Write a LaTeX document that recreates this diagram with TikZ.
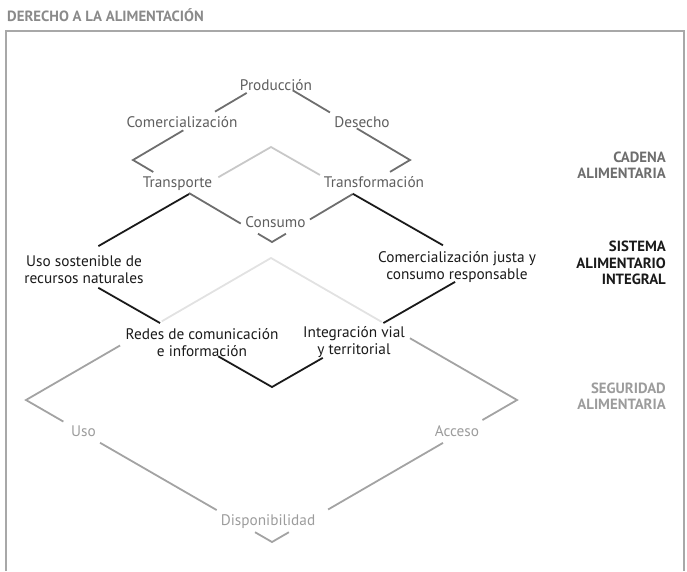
\documentclass[tikz,border=0pt]{standalone}
\usepackage{fontspec}
\setmainfont{PT Sans}
\usetikzlibrary{calc}
\definecolor{cadcol}{HTML}{6E6E6E}
\definecolor{cadtxt}{HTML}{5E5E5E}
\definecolor{siscol}{HTML}{1A1A1A}
\definecolor{segcol}{HTML}{A3A3A3}
\definecolor{segtxt}{HTML}{9C9C9C}
\definecolor{hidone}{HTML}{C8C8C8}
\definecolor{hidtwo}{HTML}{E2E2E2}
\definecolor{titcol}{HTML}{8A8A8A}
\definecolor{frmcol}{HTML}{A8A8A8}
\begin{document}
\begin{tikzpicture}[x=1pt,y=-1pt,
  lbl/.style={font=\fontsize{15.3}{17}\selectfont, align=center, inner sep=0pt},
  onel/.style={lbl, text height=10.7pt, text depth=0pt},
  sect/.style={font=\bfseries\fontsize{14.8}{16.3}\selectfont, align=right, inner sep=0pt, anchor=east},
  edge/.style={line width=1.8pt, line join=miter},
  cad/.style={edge, draw=cadcol},
  sis/.style={edge, draw=siscol},
  seg/.style={edge, draw=segcol},
  hidA/.style={edge, draw=hidone},
  hidB/.style={edge, draw=hidtwo}]
\useasboundingbox (0,0) rectangle (687,571);
% frame
\draw[line width=2pt, draw=frmcol] (6,571) -- (6,31) -- (684,31) -- (684,571);
\node[font=\bfseries\fontsize{14.8}{16}\selectfont, text=titcol, anchor=west, inner sep=0pt, text height=10.4pt, text depth=0pt] (title) at (7,16) {DERECHO A LA ALIMENTACIÓN};
% diamond vertices
\coordinate (T1) at (272,78);  \coordinate (L1) at (133,160);
\coordinate (R1) at (410,160); \coordinate (B1) at (272,242);
\coordinate (T2) at (271,147); \coordinate (L2) at (62,267);
\coordinate (R2) at (481,267); \coordinate (B2) at (272,387);
\coordinate (T3) at (271,258); \coordinate (L3) at (26,400);
\coordinate (R3) at (517,400); \coordinate (B3) at (272,542);
% hidden parts
\draw[hidB] ($(T3)!0.446!(L3)$) -- (T3) -- ($(T3)!0.45!(R3)$);
\draw[hidA] ($(T2)!0.252!(L2)$) -- (T2) -- ($(T2)!0.233!(R2)$);
% cadena alimentaria
\draw[cad] ($(T1)!0.182!(L1)$) -- ($(T1)!0.41!(L1)$);
\draw[cad] ($(T1)!0.638!(L1)$) -- (L1) -- ($(L1)!0.146!(B1)$);
\draw[cad] ($(L1)!0.403!(B1)$) -- ($(L1)!0.775!(B1)$);
\draw[cad] ($(L1)!0.899!(B1)$) -- (B1) -- ($(R1)!0.899!(B1)$);
\draw[cad] ($(T1)!0.15!(R1)$) -- ($(T1)!0.42!(R1)$);
\draw[cad] ($(T1)!0.614!(R1)$) -- (R1) -- ($(R1)!0.145!(B1)$);
\draw[cad] ($(R1)!0.415!(B1)$) -- ($(R1)!0.725!(B1)$);
% sistema alimentario integral
\draw[sis] ($(T2)!0.392!(L2)$) -- ($(T2)!0.826!(L2)$);
\draw[sis] ($(L2)!0.173!(B2)$) -- ($(L2)!0.467!(B2)$);
\draw[sis] ($(L2)!0.744!(B2)$) -- (B2) -- ($(R2)!0.757!(B2)$);
\draw[sis] ($(T2)!0.389!(R2)$) -- ($(T2)!0.819!(R2)$);
\draw[sis] ($(R2)!0.124!(B2)$) -- ($(R2)!0.467!(B2)$);
% seguridad alimentaria
\draw[seg] ($(T3)!0.616!(L3)$) -- (L3) -- ($(L3)!0.152!(B3)$);
\draw[seg] ($(L3)!0.301!(B3)$) -- ($(L3)!0.775!(B3)$);
\draw[seg] ($(L3)!0.931!(B3)$) -- (B3) -- ($(R3)!0.931!(B3)$);
\draw[seg] ($(T3)!0.565!(R3)$) -- (R3) -- ($(R3)!0.141!(B3)$);
\draw[seg] ($(R3)!0.302!(B3)$) -- ($(R3)!0.771!(B3)$);
% labels: cadena
\node[onel, text=cadtxt] (prod) at (276,85) {Producción};
\node[onel, text=cadtxt] (com) at (182,122) {Comercialización};
\node[onel, text=cadtxt] (des) at (362,122) {Desecho};
\node[onel, text=cadtxt] (trans) at (177.5,182) {Transporte};
\node[onel, text=cadtxt] (transf) at (374,182) {Transformación};
\node[onel, text=cadtxt] (cons) at (275.5,222) {Consumo};
% labels: sistema
\node[lbl, text=siscol] (uso) at (84,269.5) {Uso sostenible de\\recursos naturales};
\node[lbl, text=siscol] (cj) at (457,267.5) {Comercialización justa y\\consumo responsable};
\node[lbl, text=siscol] (redes) at (202,342.5) {Redes de comunicación\\e información};
\node[lbl, text=siscol] (integ) at (354,342.5) {Integración vial\\y territorial};
% labels: seguridad
\node[onel, text=segtxt] (usob) at (83.5,431) {Uso};
\node[onel, text=segtxt] (acc) at (457,431) {Acceso};
\node[onel, text=segtxt] (disp) at (268,520) {Disponibilidad};
% section labels
\node[sect, text=cadcol] (scad) at (666,165) {CADENA\\ALIMENTARIA};
\node[sect, text=siscol] (ssis) at (666,263) {SISTEMA\\ALIMENTARIO\\INTEGRAL};
\node[sect, text=segtxt] (sseg) at (666,396.5) {SEGURIDAD\\ALIMENTARIA};
\end{tikzpicture}
\end{document}
